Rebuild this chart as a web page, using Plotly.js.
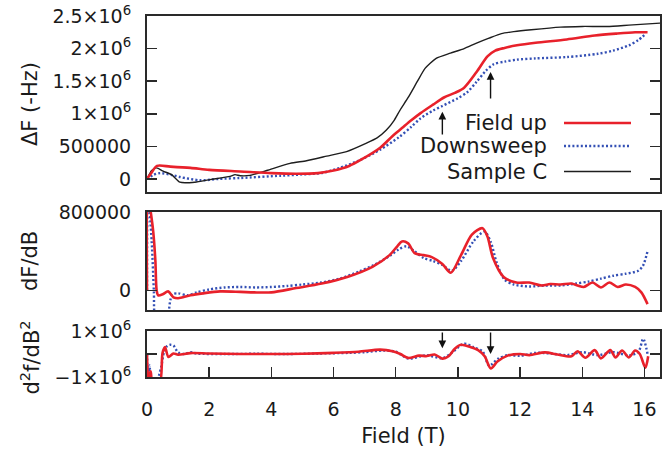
<!DOCTYPE html>
<html>
<head>
<meta charset="utf-8">
<script src="https://cdn.plot.ly/plotly-3.0.1.min.js"></script>
<style>html,body{margin:0;padding:0;background:#fff;}#chart{width:663px;height:456px;}</style>
</head>
<body>
<div id="chart"></div>
<script>
// ---------- DATA (values in units of 10^6) ----------
// Top panel: ΔF (-Hz)
var upFieldTop = [0, 0.15, 0.32, 0.75, 1.4, 2.0, 3.0, 4.0, 4.8, 5.5, 6.0, 6.5, 6.9, 7.5, 7.9, 8.2, 8.5, 8.8, 9.2, 9.55, 9.9, 10.2, 10.6, 10.95, 11.2, 11.5, 11.9, 12.5, 13.5, 14.4, 15.1, 15.7, 16.1];
var upTop      = [0, 0.1, 0.2, 0.19, 0.17, 0.14, 0.115, 0.09, 0.08, 0.09, 0.13, 0.2, 0.3, 0.48, 0.66, 0.78, 0.9, 1.01, 1.14, 1.25, 1.32, 1.4, 1.64, 1.88, 1.97, 2.01, 2.05, 2.09, 2.14, 2.2, 2.23, 2.25, 2.25];

var downFieldTop = [0, 0.2, 0.42, 0.8, 1.06, 1.7, 2.3, 3.0, 4.3, 5.0, 5.6, 6.2, 6.85, 7.5, 8.1, 8.5, 8.8, 9.2, 9.5, 10.0, 10.3, 10.6, 10.9, 11.15, 11.5, 11.9, 12.5, 13.5, 14.5, 15.0, 15.5, 15.8, 16.05];
var downTop      = [0, 0.06, 0.09, 0.06, 0.03, -0.02, 0.0, 0.015, 0.05, 0.07, 0.09, 0.17, 0.29, 0.45, 0.64, 0.8, 0.93, 1.05, 1.12, 1.24, 1.33, 1.49, 1.66, 1.76, 1.8, 1.83, 1.85, 1.87, 1.92, 1.97, 2.05, 2.13, 2.23];

var sampleCField = [0, 0.15, 0.31, 0.52, 0.79, 1.06, 1.54, 2.03, 2.67, 2.83, 3.0, 3.31, 3.85, 4.6, 5.13, 5.78, 6.42, 7.06, 7.4, 7.7, 7.95, 8.13, 8.4, 8.7, 8.95, 9.3, 9.76, 10.2, 10.58, 11.0, 11.4, 11.8, 12.36, 13.3, 14.0, 14.8, 15.5, 16.5];
var sampleCTop   = [0, 0.13, 0.17, 0.12, 0.066, -0.05, -0.05, -0.01, 0.04, 0.066, 0.05, 0.055, 0.13, 0.24, 0.28, 0.35, 0.42, 0.55, 0.63, 0.75, 0.9, 1.05, 1.25, 1.5, 1.7, 1.85, 1.93, 2.0, 2.08, 2.16, 2.23, 2.26, 2.29, 2.33, 2.34, 2.34, 2.36, 2.39];

// Middle panel: dF/dB
var upFieldMid = [0, 0.02, 0.12, 0.2, 0.27, 0.31, 0.36, 0.5, 0.68, 0.85, 1.0, 1.4, 1.8, 2.35, 3.0, 3.44, 4.0, 4.8, 5.62, 6.44, 7.25, 7.8, 8.05, 8.2, 8.4, 8.61, 8.9, 9.16, 9.5, 9.77, 10.1, 10.45, 10.79, 10.95, 11.13, 11.47, 11.88, 12.29, 12.7, 12.97, 13.3, 13.65, 13.85, 14.05, 14.33, 14.6, 14.87, 15.14, 15.4, 15.7, 15.9, 16.1];
var upMid      = [0, 1.0, 0.8, 0.6, 0.3, 0.0, -0.05, -0.04, -0.01, -0.07, -0.08, -0.05, -0.03, -0.01, -0.015, -0.02, -0.02, 0.024, 0.07, 0.137, 0.24, 0.36, 0.45, 0.5, 0.48, 0.38, 0.36, 0.34, 0.27, 0.18, 0.36, 0.57, 0.635, 0.55, 0.33, 0.137, 0.08, 0.08, 0.05, 0.065, 0.06, 0.07, 0.05, 0.035, 0.08, 0.03, 0.08, 0.035, 0.06, 0.035, -0.02, -0.14];

var downFieldMid = [0, 0.03, 0.15, 0.22, 0.27, 0.5, 0.68, 0.75, 0.82, 1.0, 1.3, 1.6, 2.0, 2.5, 3.0, 3.5, 4.0, 4.5, 5.0, 5.6, 6.2, 6.8, 7.3, 7.8, 8.1, 8.35, 8.6, 8.9, 9.2, 9.5, 9.8, 10.1, 10.5, 10.85, 11.05, 11.25, 11.5, 11.8, 12.3, 12.8, 13.3, 13.8, 14.2, 14.6, 15.0, 15.4, 15.8, 15.95, 16.1];
var downMid      = [0, 1.0, 0.5, 0.0, -0.3, -0.4, -0.25, -0.1, -0.04, -0.03, -0.05, -0.02, 0.01, 0.03, 0.035, 0.03, 0.035, 0.045, 0.06, 0.08, 0.12, 0.19, 0.26, 0.35, 0.42, 0.45, 0.4, 0.33, 0.3, 0.26, 0.2, 0.3, 0.5, 0.6, 0.5, 0.28, 0.11, 0.06, 0.04, 0.05, 0.05, 0.07, 0.09, 0.12, 0.15, 0.17, 0.2, 0.25, 0.4];

// Bottom panel: d²f/dB²
var upFieldBot = [0, 0.04, 0.08, 0.12, 0.16, 0.2, 0.3, 0.42, 0.5, 0.58, 0.69, 0.85, 1.0, 1.4, 2.0, 3.0, 4.0, 5.0, 6.0, 6.8, 7.5, 7.9, 8.15, 8.4, 8.75, 9.0, 9.25, 9.5, 9.7, 9.9, 10.1, 10.4, 10.65, 10.86, 11.06, 11.27, 11.6, 12.0, 12.3, 12.8, 13.2, 13.65, 13.85, 14.1, 14.4, 14.6, 14.9, 15.07, 15.28, 15.5, 15.7, 15.85, 16.03, 16.12];
var upBot      = [0, -1.2, -0.9, -0.75, -1.2, -1.2, -1.2, -1.2, 0.05, 0.3, -0.13, 0.02, -0.03, 0.04, 0.02, 0.0, 0.0, 0.01, 0.05, 0.1, 0.19, 0.12, 0.0, -0.17, -0.07, -0.09, -0.02, -0.2, -0.1, 0.23, 0.4, 0.3, 0.17, -0.1, -0.63, -0.33, -0.07, 0.0, -0.05, 0.07, -0.02, -0.1, 0.12, -0.16, 0.17, -0.19, 0.17, -0.15, 0.15, -0.15, 0.15, 0.0, -0.6, -0.1];

var downFieldBot = [0, 0.03, 0.08, 0.15, 0.3, 0.45, 0.55, 0.65, 0.75, 0.85, 1.0, 1.2, 1.4, 1.6, 2.5, 3.5, 4.5, 5.5, 6.5, 7.0, 7.6, 8.0, 8.4, 8.8, 9.0, 9.5, 9.8, 10.2, 10.5, 10.8, 11.0, 11.3, 11.6, 12.0, 12.5, 13.0, 13.5, 14.0, 14.5, 15.0, 15.5, 15.8, 15.96, 16.1];
var downBot      = [0, -1.2, -0.5, -1.2, -1.2, -0.6, 0.1, 0.35, 0.4, 0.37, 0.07, 0.0, 0.08, 0.02, 0.0, 0.01, 0.0, 0.02, 0.05, 0.08, 0.15, 0.1, -0.2, -0.1, -0.05, -0.18, 0.05, 0.45, 0.3, 0.1, -0.5, -0.2, -0.05, -0.08, 0.05, 0.02, -0.05, 0.08, -0.05, 0.08, -0.06, 0.08, 0.66, 0.0];

// Arrow markers (field positions of the features)
var arrowFields = [9.5, 11.05];
var arrowTopHead = [1.03, 1.64];
var arrowTopTail = [0.66, 1.21];
var arrowBotHead = [0.25, 0.0];

// Tick values / labels
var xTicks = [0, 2, 4, 6, 8, 10, 12, 14, 16];
var topTickVals = [0, 0.5, 1, 1.5, 2, 2.5];
var topTickText = ['0', '500000', '1×10<sup>6</sup>', '1.5×10<sup>6</sup>', '2×10<sup>6</sup>', '2.5×10<sup>6</sup>'];
var midTickVals = [0, 0.8];
var midTickText = ['0', '800000'];
var botTickVals = [-1, 0, 1];
var botTickText = ['−1×10<sup>6</sup>', '', '1×10<sup>6</sup>'];
var seriesNames = ['Field up', 'Downsweep', 'Sample C'];

// ---------- STYLE ----------
var RED = '#e8212b', BLUE = '#3450b5', BLACK = '#1e1e1e', FRAME = '#2a2a2a';
var FONT = 'DejaVu Sans, Arial, sans-serif';
var redLine = {color: RED, width: 2.6, shape: 'spline', smoothing: 0.8};
var blueLine = {color: BLUE, width: 2.4, dash: '2px,2.2px', shape: 'spline', smoothing: 0.8};
var blackLine = {color: BLACK, width: 1.4, shape: 'spline', smoothing: 0.6};

var traces = [
  {x: downFieldTop, y: downTop, xaxis: 'x', yaxis: 'y', mode: 'lines', line: blueLine, name: seriesNames[1]},
  {x: sampleCField, y: sampleCTop, xaxis: 'x', yaxis: 'y', mode: 'lines', line: blackLine, name: seriesNames[2]},
  {x: upFieldTop, y: upTop, xaxis: 'x', yaxis: 'y', mode: 'lines', line: redLine, name: seriesNames[0]},
  {x: downFieldMid, y: downMid, xaxis: 'x2', yaxis: 'y2', mode: 'lines', line: blueLine},
  {x: upFieldMid, y: upMid, xaxis: 'x2', yaxis: 'y2', mode: 'lines', line: redLine},
  {x: downFieldBot, y: downBot, xaxis: 'x3', yaxis: 'y3', mode: 'lines', line: blueLine},
  {x: upFieldBot, y: upBot, xaxis: 'x3', yaxis: 'y3', mode: 'lines', line: redLine}
];

var W = 663, H = 456, ML = 147, MR = 3, MT = 16, MB = 79;
var PW = W - ML - MR, PH = H - MT - MB;
function py(px) { return (H - MB - px) / PH; }   // pixel row -> paper y
function pxp(px) { return (px - ML) / PW; }       // pixel col -> paper x

var tickFont = {family: FONT, size: 19, color: '#1a1a1a'};
var titleFont = {family: FONT, size: 21, color: '#1a1a1a'};
var xRange = [0, 16.5];

function xAxis(domainAnchor, showLabels) {
  return {
    anchor: domainAnchor, range: xRange, showgrid: false, zeroline: false,
    showline: true, linecolor: FRAME, linewidth: 2, mirror: true,
    ticks: showLabels ? 'inside' : '', ticklen: 10, tickwidth: 1.5, tickcolor: FRAME,
    tickvals: xTicks, ticktext: xTicks.map(String), showticklabels: showLabels,
    tickfont: tickFont, ticklabelstandoff: 14, matches: showLabels ? undefined : 'x3'
  };
}
function yAxis(domain, anchor, range, vals, text) {
  return {
    anchor: anchor, domain: domain, range: range, showgrid: false, zeroline: false,
    showline: true, linecolor: FRAME, linewidth: 2, mirror: 'ticks',
    ticks: 'inside', ticklen: 10, tickwidth: 1.5, tickcolor: FRAME,
    tickvals: vals, ticktext: text, tickfont: tickFont, ticklabelstandoff: 10
  };
}

var layout = {
  width: W, height: H,
  margin: {l: ML, r: MR, t: MT, b: MB, pad: 0},
  paper_bgcolor: '#fff', plot_bgcolor: '#fff',
  showlegend: false,
  font: {family: FONT, color: '#1a1a1a'},
  xaxis: xAxis('y', false),
  xaxis2: xAxis('y2', false),
  xaxis3: Object.assign(xAxis('y3', true), {title: {text: 'Field (T)', font: titleFont, standoff: 10}}),
  yaxis: yAxis([py(192), 1], 'x', [-0.2, 2.5], topTickVals, topTickText),
  yaxis2: yAxis([py(310), py(212)], 'x2', [-0.2, 0.8], midTickVals, midTickText),
  yaxis3: yAxis([0, py(331)], 'x3', [-1, 1], botTickVals, botTickText),
  annotations: [],
  shapes: []
};

// y-axis titles
var yTitles = [
  {text: 'ΔF (-Hz)', y: (py(16) + py(192)) / 2},
  {text: 'dF/dB', y: (py(212) + py(310)) / 2},
  {text: 'd<sup>2</sup>f/dB<sup>2</sup>', y: (py(331) + py(377)) / 2 - 0.01}
];
yTitles.forEach(function (t) {
  layout.annotations.push({xref: 'paper', yref: 'paper', x: 0, y: t.y, xshift: -(ML - 30),
    text: t.text, textangle: -90, showarrow: false, font: titleFont, xanchor: 'center', yanchor: 'middle'});
});

// legend (gnuplot style: right-aligned text, sample line to the right)
var legendRows = [123, 146, 171.5];
var legendStyles = [redLine, blueLine, blackLine];
seriesNames.forEach(function (n, i) {
  layout.annotations.push({xref: 'paper', yref: 'paper', x: pxp(549), y: py(legendRows[i]),
    text: n, showarrow: false, xanchor: 'right', yanchor: 'middle', font: titleFont});
  layout.shapes.push({type: 'line', xref: 'paper', yref: 'paper',
    x0: pxp(564), x1: pxp(631), y0: py(legendRows[i]), y1: py(legendRows[i]),
    line: {color: legendStyles[i].color, width: legendStyles[i].width, dash: legendStyles[i].dash || 'solid'}});
});

// arrows
arrowFields.forEach(function (f, i) {
  layout.annotations.push({xref: 'x', yref: 'y', axref: 'x', ayref: 'y', x: f, y: arrowTopHead[i],
    ax: f, ay: arrowTopTail[i], showarrow: true, arrowhead: 2, arrowsize: 1.1, arrowwidth: 1.4,
    arrowcolor: '#111', text: '', standoff: 0, startstandoff: 0});
  layout.annotations.push({xref: 'x3', yref: 'y3', axref: 'x3', ayref: 'y3', x: f, y: arrowBotHead[i],
    ax: f, ay: 1.0, showarrow: true, arrowhead: 2, arrowsize: 1.1, arrowwidth: 1.4,
    arrowcolor: '#111', text: '', standoff: 0, startstandoff: 0});
});

Plotly.newPlot('chart', traces, layout, {displayModeBar: false, staticPlot: true});
</script>
</body>
</html>
